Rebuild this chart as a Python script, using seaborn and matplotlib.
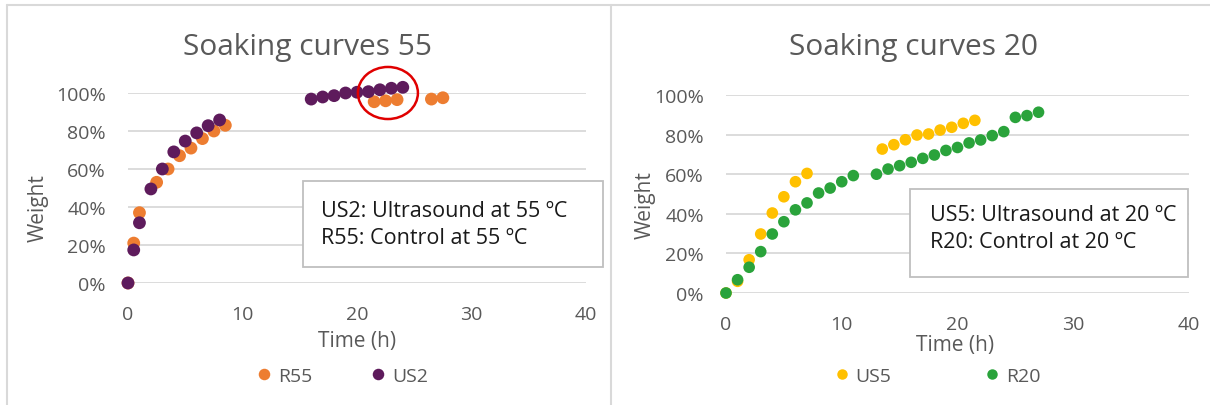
import numpy as np
import pandas as pd
import seaborn as sns
import matplotlib
matplotlib.use("Agg")
import matplotlib.pyplot as plt
from matplotlib.patches import Ellipse, Rectangle
from matplotlib.lines import Line2D
from matplotlib.ticker import PercentFormatter

# ---------------- data ----------------
r55_time = [0, 0.5, 1, 2.5, 3.5, 4.5, 5.5, 6.5, 7.5, 8.5, 21.5, 22.5, 23.5, 26.5, 27.5]
r55_weight = [0.0, 0.21, 0.37, 0.53, 0.60, 0.67, 0.71, 0.76, 0.80, 0.83, 0.954, 0.959, 0.965, 0.968, 0.975]
us2_time = [0, 0.5, 1, 2, 3, 4, 5, 6, 7, 8, 16, 17, 18, 19, 20, 21, 22, 23, 24]
us2_weight = [0.0, 0.174, 0.317, 0.495, 0.60, 0.69, 0.747, 0.79, 0.828, 0.858,
              0.968, 0.979, 0.986, 1.0, 1.004, 1.007, 1.017, 1.025, 1.03]

us5_time = [0, 1, 2, 3, 4, 5, 6, 7, 13.5, 14.5, 15.5, 16.5, 17.5, 18.5, 19.5, 20.5, 21.5]
us5_weight = [0.0, 0.059, 0.168, 0.298, 0.404, 0.486, 0.562, 0.604,
              0.727, 0.749, 0.774, 0.798, 0.803, 0.823, 0.837, 0.857, 0.872]
r20_time = [0, 1, 2, 3, 4, 5, 6, 7, 8, 9, 10, 11, 13, 14, 15, 16, 17, 18, 19, 20,
            21, 22, 23, 24, 25, 26, 27]
r20_weight = [0.0, 0.067, 0.13, 0.209, 0.298, 0.36, 0.42, 0.455, 0.505, 0.53, 0.562, 0.593,
              0.60, 0.626, 0.643, 0.66, 0.68, 0.697, 0.72, 0.735, 0.758, 0.773, 0.795,
              0.815, 0.887, 0.896, 0.913]

titles = ["Soaking curves 55", "Soaking curves 20"]
notes = ["US2: Ultrasound at 55 ºC\nR55: Control at 55 ºC",
         "US5: Ultrasound at 20 ºC\nR20: Control at 20 ºC"]
x_ticks = [0, 10, 20, 30, 40]
y_ticks = [0, 0.2, 0.4, 0.6, 0.8, 1.0]

df55 = pd.concat([
    pd.DataFrame({"Time": r55_time, "Weight": r55_weight, "Series": "R55"}),
    pd.DataFrame({"Time": us2_time, "Weight": us2_weight, "Series": "US2"}),
])
df20 = pd.concat([
    pd.DataFrame({"Time": us5_time, "Weight": us5_weight, "Series": "US5"}),
    pd.DataFrame({"Time": r20_time, "Weight": r20_weight, "Series": "R20"}),
])

# ---------------- style ----------------
sns.set_theme(style="white")
plt.rcParams["font.family"] = ["Open Sans", "DejaVu Sans"]
GRAY = "#595959"
GRID = "#d9d9d9"

W, H = 1210, 406
fig = plt.figure(figsize=(W / 100, H / 100), dpi=100)


def ax_rect(x0, x1, y_bot, y_top):
    return [x0 / W, 1 - y_bot / H, (x1 - x0) / W, (y_bot - y_top) / H]


ax1 = fig.add_axes(ax_rect(128, 586, 284, 94))
ax2 = fig.add_axes(ax_rect(726, 1189, 294, 96))

sns.scatterplot(data=df55, x="Time", y="Weight", hue="Series",
                palette={"R55": "#ED7D31", "US2": "#5E1B5C"},
                s=85, linewidth=0, clip_on=False, zorder=3, ax=ax1)
sns.scatterplot(data=df20, x="Time", y="Weight", hue="Series",
                palette={"US5": "#FFC000", "R20": "#2AA33B"},
                s=70, linewidth=0, clip_on=False, zorder=3, ax=ax2)

for ax, title, tx in [(ax1, titles[0], 0.391), (ax2, titles[1], 0.404)]:
    ax.set_xlim(0, 40)
    ax.set_ylim(0, 1.0)
    ax.set_xticks(x_ticks)
    ax.set_yticks(y_ticks)
    ax.yaxis.set_major_formatter(PercentFormatter(1.0, decimals=0))
    for sp in ax.spines.values():
        sp.set_visible(False)
    ax.grid(axis="y", color=GRID, linewidth=1.3)
    ax.grid(axis="x", visible=False)
    ax.set_axisbelow(True)
    ax.tick_params(axis="both", length=0, labelsize=14, colors=GRAY)
    ax.tick_params(axis="x", pad=16)
    ax.tick_params(axis="y", pad=16)
    ax.set_xlabel("Time (h)", fontsize=15, color=GRAY)
    ax.set_ylabel("Weight", fontsize=15, color=GRAY)
    ax.yaxis.label.set_verticalalignment("center")
    ax.xaxis.label.set_verticalalignment("center")
    ax.text(tx, 1.247, title, transform=ax.transAxes, ha="center", va="center",
            fontsize=21.5, color=GRAY)

ax1.xaxis.set_label_coords(0.5, -0.305)
ax1.yaxis.set_label_coords((38 - 128) / 458, 0.40)
ax2.xaxis.set_label_coords(0.495, -0.258)
ax2.yaxis.set_label_coords((645 - 726) / 463, 0.45)

sns.move_legend(ax1, "center", bbox_to_anchor=(0.47, -0.489), ncol=2, frameon=False,
                title=None, fontsize=14, markerscale=0.9, handlelength=0.6,
                handletextpad=0.4, columnspacing=3.1, labelcolor=GRAY)
sns.move_legend(ax2, "center", bbox_to_anchor=(0.458, -0.419), ncol=2, frameon=False,
                title=None, fontsize=14, markerscale=0.9, handlelength=0.6,
                handletextpad=0.4, columnspacing=4.9, labelcolor=GRAY)

# red highlight ellipse
ax1.add_patch(Ellipse((22.7, 1.0), 5.24, 0.274, fill=False, edgecolor="#E00000",
                      linewidth=1.8, clip_on=False, zorder=4))

# annotation boxes (figure pixel coords)
def note_box(x0, y0, x1, y1, tx, ty, text):
    fig.add_artist(Rectangle((x0 / W, 1 - y1 / H), (x1 - x0) / W, (y1 - y0) / H,
                             transform=fig.transFigure, facecolor="white",
                             edgecolor="#bfbfbf", linewidth=1.3, zorder=5))
    fig.text(tx / W, 1 - ty / H, text, ha="left", va="center", fontsize=15.5,
             color="#1a1a1a", linespacing=1.35, zorder=6)

note_box(303, 182, 603, 268, 321, 225, notes[0])
note_box(910, 190, 1188, 278, 930, 229, notes[1])

# panel borders
for xs, ys in [([7, 1210], [6, 6]), ([7, 7], [6, 406]), ([611, 611], [6, 406])]:
    fig.add_artist(Line2D([x / W for x in xs], [1 - y / H for y in ys],
                          transform=fig.transFigure, color=GRID, linewidth=1.5))

fig.savefig("out.png", dpi=100)
